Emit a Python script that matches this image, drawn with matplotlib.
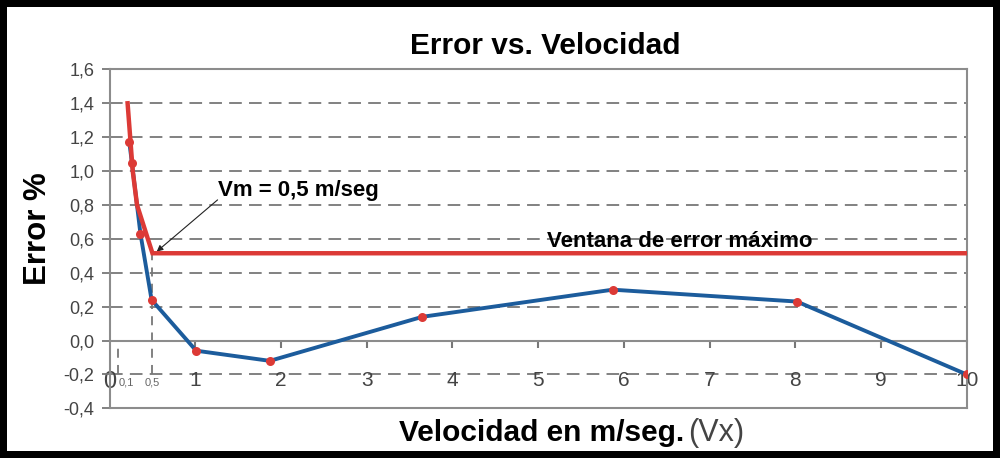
import matplotlib
matplotlib.use("Agg")
import matplotlib.pyplot as plt
import matplotlib.transforms as mtrans

# velocity (m/seg) vs error (%) measured points
vel = [0.23, 0.26, 0.36, 0.49, 1.01, 1.87, 3.65, 5.87, 8.02, 10.0]
err = [1.17, 1.05, 0.63, 0.24, -0.06, -0.12, 0.14, 0.30, 0.23, -0.20]

# maximum error window (red)
win_v = [0.21, 0.27, 0.32, 0.50, 10.0]
win_e = [1.40, 1.00, 0.80, 0.515, 0.515]

v_min = 0.5   # Vm
v_low = 0.1

yticks = [-0.4, -0.2, 0.0, 0.2, 0.4, 0.6, 0.8, 1.0, 1.2, 1.4, 1.6]
ytick_labels = ["-0,4", "-0,2", "0,0", "0,2", "0,4", "0,6", "0,8", "1,0", "1,2", "1,4", "1,6"]
xticks = [0, 0.1, 0.5, 1, 2, 3, 4, 5, 6, 7, 8, 9, 10]
xtick_labels = ["0", "0,1", "0,5", "1", "2", "3", "4", "5", "6", "7", "8", "9", "10"]

plt.rcParams['font.family'] = ['Liberation Sans', 'DejaVu Sans']

grey = "#8c8c8c"
dgrey = "#777777"
blue = "#1c5c9c"
red = "#dc3a36"

fig = plt.figure(figsize=(10, 4.58), dpi=100, edgecolor='black', linewidth=10)
ax = fig.add_axes([0.1096, 0.1085, 0.857, 0.740])

ax.set_xlim(0, 10)
ax.set_ylim(-0.4, 1.6)

# dashed grid lines
for y in yticks[1:-1]:
    if y != 0:
        ax.axhline(y, color=dgrey, lw=1.3, ls=(0, (7, 4)), zorder=1)

# box and x axis at zero
for s in ax.spines.values():
    s.set_color(grey)
    s.set_linewidth(1.5)
ax.spines['bottom'].set_position(('data', 0))
ax.axhline(-0.4, color=grey, lw=1.5, zorder=3, clip_on=False)

# reference dashed verticals
ax.vlines(v_low, -0.2, 0, colors=dgrey, lw=1.3, linestyles=(0, (5, 4)), zorder=1)
ax.vlines(v_min, -0.2, win_e[-1], colors=dgrey, lw=1.3, linestyles=(0, (5, 4)), zorder=1)

# tick marks below the zero axis at the whole numbers
whole = [x for x in xticks if x >= 1]
ax.vlines(whole, -0.045, 0, colors=dgrey, lw=1.5, zorder=2)

ax.plot(vel, err, color=blue, lw=2.8, zorder=3)
ax.plot(win_v, win_e, color=red, lw=3.2, zorder=4, solid_joinstyle='miter')
ax.plot(vel, err, 'o', color=red, ms=6.5, zorder=5, mec='none')

ax.set_yticks(yticks)
ax.set_yticklabels(ytick_labels, fontsize=13, color="#444444")
ax.tick_params(axis='y', direction='out', length=6, width=1.3, color=dgrey, pad=5)

ax.set_xticks(xticks)
ax.set_xticklabels(xtick_labels, fontsize=15, color="#444444")
ax.tick_params(axis='x', length=0, pad=22)
for i, t in enumerate(ax.xaxis.get_major_ticks()):
    if xticks[i] in (v_low, v_min):
        t.label1.set_fontsize(8)
        t.label1.set_color("#666666")
        t.label1.set_verticalalignment('bottom')
        t.label1.set_transform(t.label1.get_transform()
                               + mtrans.ScaledTranslation(0, -12 / 72, fig.dpi_scale_trans))
    if xticks[i] == v_low:
        t.label1.set_horizontalalignment('left')
    if xticks[i] == 0:
        t.label1.set_fontsize(17)

ax.annotate("", xy=(v_min + 0.05, win_e[-1] + 0.01), xytext=(1.26, 0.83),
            arrowprops=dict(arrowstyle='-|>', color='#222222', lw=0.8, mutation_scale=9,
                            shrinkA=0, shrinkB=0))
ax.text(1.26, 0.85, "Vm = 0,5 m/seg", fontsize=16, fontweight='bold', va='baseline', ha='left')
ax.text(5.1, 0.587, "Ventana de error máximo", fontsize=16, fontweight='bold',
        ha='left', va='center')

fig.text(0.545, 0.90, "Error vs. Velocidad", fontsize=21.5, fontweight='bold',
         ha='center', va='center')
fig.text(0.0375, 0.501, "Error %", fontsize=22.5, fontweight='bold', rotation=90,
         ha='center', va='center')
fig.text(0.684, 0.0546, "Velocidad en m/seg.", fontsize=21.5, fontweight='bold',
         ha='right', va='center')
fig.text(0.688, 0.0546, "(Vx)", fontsize=22, ha='left', va='center', color="#444444")

fig.savefig("out.png", dpi=100, edgecolor=fig.get_edgecolor())
